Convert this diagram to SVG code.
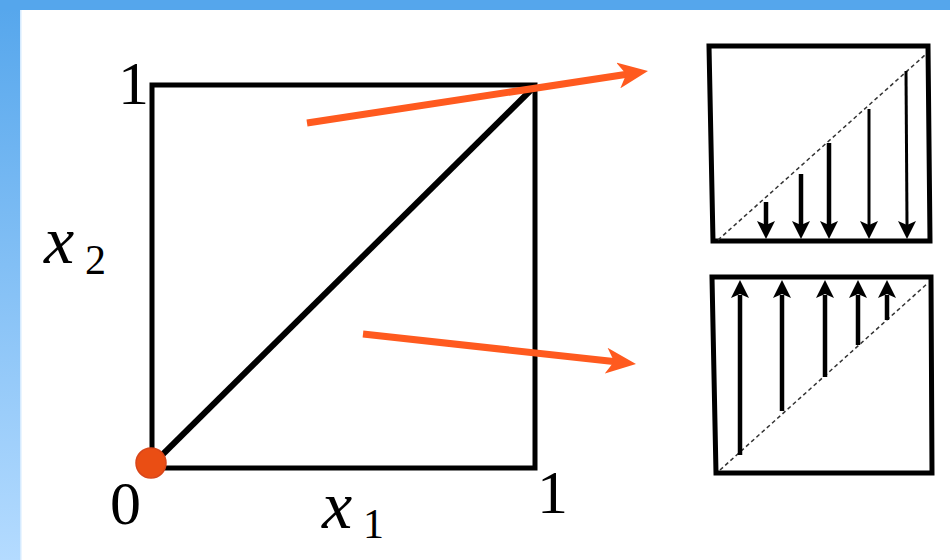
<svg xmlns="http://www.w3.org/2000/svg" width="950" height="560" viewBox="0 0 950 560">
  <defs>
    <linearGradient id="side" x1="0" y1="0" x2="0" y2="1">
      <stop offset="0" stop-color="#55a6ec"/>
      <stop offset="1" stop-color="#b4dbff"/>
    </linearGradient>
    <marker id="oh" markerUnits="userSpaceOnUse" viewBox="0 0 30 26" refX="12" refY="13" markerWidth="30" markerHeight="26" orient="auto">
      <path d="M0,0 L30,13 L0,26 L8,13 z" fill="#ff5a1f"/>
    </marker>
  </defs>
  <style>
    .frame { fill: none; stroke: #000; stroke-width: 5; stroke-linejoin: miter; }
    .diag { fill: none; stroke: #000; stroke-width: 6; }
    .dash { fill: none; stroke: #333; stroke-width: 1.5; stroke-dasharray: 4 3; }
    .thick { stroke: #000; stroke-width: 4.5; }
    .thin { stroke: #000; stroke-width: 3; }
    .head { fill: #000; }
    .orange { fill: none; stroke: #ff5a1f; stroke-width: 7; }
    .num { font-family: "Liberation Serif", "DejaVu Serif", serif; font-size: 62px; fill: #000; }
    .var { font-family: "Liberation Serif", "DejaVu Serif", serif; font-style: italic; font-size: 68px; fill: #000; }
    .sub { font-family: "Liberation Serif", "DejaVu Serif", serif; font-size: 42px; fill: #000; }
  </style>
  <rect x="0" y="0" width="950" height="560" fill="#ffffff"/>
  <rect x="0" y="0" width="20" height="560" fill="url(#side)"/>
  <rect x="0" y="0" width="950" height="10" fill="#55a6ec"/>
  <rect x="20" y="10" width="1.5" height="550" fill="#d6ebff"/>

  <g id="unit-square">
    <rect class="frame" x="152" y="85" width="383" height="383"/>
    <line class="diag" x1="152" y1="465" x2="534" y2="87"/>
    <circle cx="151" cy="463" r="15" fill="#ea4e14" stroke="#d8461a" stroke-width="1.5"/>
  </g>

  <g id="labels">
    <text class="num" x="118" y="104">1</text>
    <text class="num" x="110" y="524">0</text>
    <text class="num" x="537" y="513">1</text>
    <text class="var" x="44" y="263">x</text>
    <text class="sub" x="85" y="274">2</text>
    <text class="var" x="322" y="528">x</text>
    <text class="sub" x="363" y="538">1</text>
  </g>

  <g id="upper-box">
    <path class="frame" d="M709,46 L928,46 L930,241 L713,241 Z"/>
    <line class="dash" x1="718" y1="240" x2="925" y2="55"/>
    <line class="thick" x1="766" y1="202" x2="766" y2="225"/>
    <path class="head" d="M757,221 L766,239 L775,221 L766,225 Z"/>
    <line class="thick" x1="801" y1="174" x2="801" y2="225"/>
    <path class="head" d="M792,221 L801,239 L810,221 L801,225 Z"/>
    <line class="thick" x1="829" y1="143" x2="829" y2="225"/>
    <path class="head" d="M820,221 L829,239 L838,221 L829,225 Z"/>
    <line class="thin" x1="869" y1="109" x2="869" y2="225"/>
    <path class="head" d="M860,221 L869,239 L878,221 L869,225 Z"/>
    <line class="thin" x1="906" y1="71" x2="907" y2="225"/>
    <path class="head" d="M898,221 L907,239 L916,221 L907,225 Z"/>
  </g>

  <g id="lower-box">
    <path class="frame" d="M712,277 L931,277 L932,473 L716,473 Z"/>
    <line class="dash" x1="720" y1="470" x2="928" y2="283"/>
    <line class="thick" x1="740" y1="455" x2="740" y2="295"/>
    <path class="head" d="M731,298 L740,280 L749,298 L740,294 Z"/>
    <line class="thick" x1="782" y1="411" x2="782" y2="295"/>
    <path class="head" d="M773,298 L782,280 L791,298 L782,294 Z"/>
    <line class="thick" x1="825" y1="377" x2="825" y2="295"/>
    <path class="head" d="M816,298 L825,280 L834,298 L825,294 Z"/>
    <line class="thick" x1="858" y1="345" x2="858" y2="295"/>
    <path class="head" d="M849,298 L858,280 L867,298 L858,294 Z"/>
    <line class="thick" x1="887" y1="320" x2="887" y2="295"/>
    <path class="head" d="M878,298 L887,280 L896,298 L887,294 Z"/>
  </g>

  <g id="connectors">
    <path class="orange" d="M307,123 L630.2,73.7" marker-end="url(#oh)"/>
    <path class="orange" d="M363,334 L618.1,362" marker-end="url(#oh)"/>
  </g>
</svg>
